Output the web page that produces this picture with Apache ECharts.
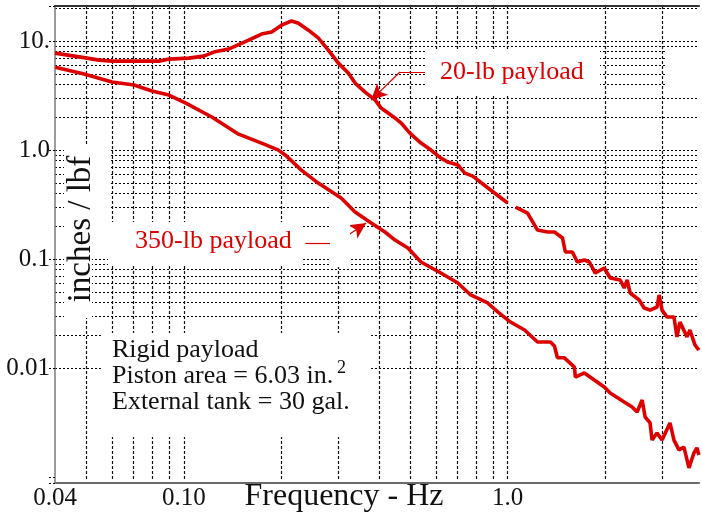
<!DOCTYPE html>
<html><head><meta charset="utf-8">
<script src="https://cdn.jsdelivr.net/npm/echarts@6/dist/echarts.min.js"></script>
<style>html,body{margin:0;padding:0;background:#fff}#c{width:702px;height:515px}</style>
</head><body><div id="c"></div>
<script>
// ---- data ----
const freq20 = [0.040,0.0459,0.0548,0.060,0.0838,0.090,0.1036,0.1152,0.1237,0.1375,0.1585,0.1738,0.1866,0.2003,0.215,0.226,0.2424,0.260,0.2794,0.300,0.322,0.338,0.363,0.390,0.4067,0.449,0.469,0.499,0.540,0.580,0.622,0.654,0.702,0.7375,0.780,0.886,1.0,1.03,1.058,1.152,1.237,1.328,1.395,1.477,1.508,1.585,1.642,1.725,1.788,1.865,1.988,2.075,2.227,2.291,2.34,2.39,2.548,2.64,2.754,2.894,2.937,2.999,3.106,3.264,3.334,3.406,3.58,3.656,3.789,3.897];
const mag20 = [7.76,7.28,6.69,6.55,6.55,6.84,6.98,7.28,7.93,8.45,10.2,11.6,12.1,14.0,15.3,14.6,12.6,10.7,8.27,6.28,5.09,4.12,3.40,2.875,2.43,1.97,1.77,1.43,1.159,1.0,0.845,0.776,0.729,0.615,0.577,0.430,0.3265,null,0.300,0.264,0.1845,0.177,0.177,0.156,0.116,0.116,0.0939,0.098,0.0939,0.0744,0.0827,0.0670,0.0642,0.0542,0.0642,0.0488,0.0421,0.0355,0.0340,0.0363,0.0468,0.0340,0.0294,0.0294,0.0193,0.0264,0.0193,0.0223,0.0163,0.0146];
const freq350 = [0.0401,0.0492,0.0600,0.0702,0.0797,0.0899,0.1014,0.1220,0.1476,0.1738,0.196,0.2075,0.2307,0.260,0.306,0.338,0.379,0.418,0.449,0.492,0.540,0.622,0.702,0.769,0.868,0.932,1.021,1.128,1.237,1.356,1.395,1.425,1.497,1.608,1.619,1.726,1.852,1.988,2.074,2.291,2.424,2.512,2.603,2.659,2.754,2.793,2.894,2.999,3.173,3.264,3.382,3.504,3.631,3.762,3.843,3.897];
const mag350 = [5.77,4.98,4.21,3.95,3.48,3.20,2.70,2.01,1.40,1.159,1.0,0.881,0.655,0.498,0.363,0.270,0.214,0.177,0.1494,0.1262,0.0939,0.0744,0.0602,0.0468,0.0395,0.0327,0.0264,0.0223,0.0173,0.0173,0.0159,0.0124,0.0124,0.0102,0.00826,0.0090,0.00776,0.00669,0.00590,0.00488,0.00439,0.00395,0.00509,0.00355,0.00313,0.00218,0.00253,0.00218,0.00313,0.00218,0.00177,0.00188,0.00121,0.00166,0.00185,0.00159];

// ---- axes / ticks ----
const xMin = 0.04, xMax = 3.9;
const yMin = 0.00088, yMax = 21;
const xLabelValues = [0.04, 0.1, 1];
const xLabelTexts = ['0.04', '0.10', '1.0'];
const yLabelValues = [0.01, 0.1, 1, 10];
const yLabelTexts = ['0.01', '0.1', '1.0', '10.'];
// vertical grid lines sit at m x 10^k for these multipliers (m = 1 is the main axis)
const xGridMultipliers = [2, 3, 4, 5, 6, 7, 8, 9];
const yGridValues = [0.001,0.002,0.003,0.004,0.005,0.006,0.007,0.008,0.009,
  0.01,0.02,0.03,0.04,0.05,0.06,0.07,0.08,0.09,
  0.1,0.2,0.3,0.4,0.5,0.6,0.7,0.8,0.9,
  1,2,3,4,5,6,7,8,9,10,20];
// arrow annotation anchor points (data space)
const arrow20 = [[0.596, 5.2], [0.465, 5.2], [0.379, 2.875]];
const arrow350 = [[0.2373, 0.140], [0.2956, 0.140], [0.3657, 0.2139]];

const FONT = '"Liberation Serif", "Times New Roman", serif';
const RED = '#dd0000';

function pickLabel(values, texts) {
  return function (v) {
    for (let i = 0; i < values.length; i++) {
      if (Math.abs(Math.log10(v) - Math.log10(values[i])) < 0.01) return texts[i];
    }
    return '';
  };
}
const hDash = { type: [2, 2], color: '#000', width: 1 };
const vDash = { type: [3, 2], color: '#111', width: 1.2 };

function arrowLines(pts) {
  return [
    [{ coord: pts[0], symbol: 'none' }, { coord: pts[1], symbol: 'none' }],
    [{ coord: pts[1], symbol: 'none' }, { coord: pts[2], symbol: 'arrow', symbolSize: [12, 16] }]
  ];
}

const chart = echarts.init(document.getElementById('c'), null, { renderer: 'canvas' });
// zlevels: 0 vertical grid, 1 boxes hiding verticals, 2 horizontal grid, 3 boxes hiding all, 4 data + text
const white = (x, y, w, h, zl) => ({ type: 'rect', zlevel: zl, z: 1, silent: true, shape: { x: x, y: y, width: w, height: h }, style: { fill: '#fff' } });
const txt = (t, x, y, size, color, align, rot) => ({
  type: 'text', zlevel: 4, z: 10, silent: true, x: x, y: y, rotation: rot || 0,
  style: { text: t, fontSize: size, fontFamily: FONT, fill: color, textAlign: align || 'left', textVerticalAlign: 'middle', verticalAlign: 'middle' }
});

const xAxes = [{
  type: 'log', logBase: 10, min: xMin, max: xMax, zlevel: 0,
  axisLine: { show: true, lineStyle: { color: '#6a6a6a', width: 2 } },
  axisTick: { show: false },
  splitLine: { show: true, showMinLine: false, showMaxLine: false, lineStyle: vDash },
  axisLabel: { show: true, formatter: pickLabel(xLabelValues, xLabelTexts), fontFamily: FONT, fontSize: 25, color: '#111', margin: 3, showMinLabel: true, showMaxLabel: true, hideOverlap: false }
}, {
  type: 'log', logBase: 10, min: xMin, max: xMax, position: 'top', zlevel: 4,
  axisLine: { show: true, lineStyle: { color: '#333', width: 2 } },
  axisTick: { show: false }, axisLabel: { show: false }, splitLine: { show: false }
}];
xGridMultipliers.forEach(m => {
  xAxes.push({
    type: 'log', logBase: 10, min: xMin / m, max: xMax / m, zlevel: 0,
    axisLine: { show: false }, axisTick: { show: false }, axisLabel: { show: false },
    splitLine: { show: true, showMinLine: false, showMaxLine: false, lineStyle: vDash }
  });
});

chart.setOption({
  animation: false,
  backgroundColor: '#fff',
  grid: { left: 55, right: 0, top: 6, bottom: 32 },
  xAxis: xAxes,
  yAxis: {
    type: 'log', logBase: 10, min: yMin, max: yMax, zlevel: 4,
    axisLine: { show: true, lineStyle: { color: '#7a7a7a', width: 1.5 } },
    axisTick: { show: true, inside: false, length: 8, lineStyle: { type: [2, 2], color: '#000', width: 1 } },
    splitLine: { show: false },
    axisLabel: { formatter: pickLabel(yLabelValues, yLabelTexts), fontFamily: FONT, fontSize: 25, color: '#111', margin: 5, padding: [10, 0, 0, 0], showMinLabel: true, showMaxLabel: true }
  },
  graphic: [
    // backgrounds hiding vertical grid segments only
    white(108, 222, 19, 44, 1),
    white(330, 197, 20, 70, 1),
    white(57, 479, 645, 3, 1),
    // label backgrounds hiding all grid lines
    white(64, 145, 46, 87, 3),
    white(64, 232, 28, 86, 3),
    white(127, 222, 175, 44, 3),
    white(103, 333, 267, 104, 3),
    white(425, 49, 175, 47, 3),
    white(667, 49, 35, 47, 3),
    // texts
    txt('20-lb payload', 440, 72, 26, RED),
    txt('350-lb payload', 135, 241, 26, RED),
    txt('Rigid payload', 112, 350, 26, '#111'),
    txt('Piston area = 6.03 in.', 112, 376, 26, '#111'),
    txt('2', 337, 368, 18, '#111'),
    txt('External tank = 30 gal.', 112, 402, 26, '#111'),
    txt('Frequency - Hz', 344, 497, 32, '#111', 'center'),
    txt('inches / lbf', 81, 229, 33, '#111', 'center', Math.PI / 2)
  ],
  series: [
    {
      name: 'hgrid', type: 'line', data: [], zlevel: 2, z: 1, silent: true,
      markLine: {
        silent: true, symbol: ['none', 'none'], label: { show: false }, lineStyle: hDash,
        emphasis: { disabled: true },
        data: yGridValues.map(v => ({ yAxis: v }))
      }
    },
    {
      name: '20-lb payload', type: 'line', zlevel: 4, z: 5, showSymbol: false, connectNulls: false,
      data: freq20.map((f, i) => [f, mag20[i]]),
      lineStyle: { color: RED, width: 3.6 }, itemStyle: { color: RED },
      markLine: {
        silent: true, symbol: ['none', 'arrow'], label: { show: false },
        lineStyle: { color: RED, width: 1.2, type: 'solid' }, itemStyle: { color: RED },
        emphasis: { disabled: true },
        data: arrowLines(arrow20)
      }
    },
    {
      name: '350-lb payload', type: 'line', zlevel: 4, z: 5, showSymbol: false,
      data: freq350.map((f, i) => [f, mag350[i]]),
      lineStyle: { color: RED, width: 3.6 }, itemStyle: { color: RED },
      markLine: {
        silent: true, symbol: ['none', 'arrow'], label: { show: false },
        lineStyle: { color: RED, width: 1.2, type: 'solid' }, itemStyle: { color: RED },
        emphasis: { disabled: true },
        data: arrowLines(arrow350)
      }
    }
  ]
});
</script>
</body></html>
